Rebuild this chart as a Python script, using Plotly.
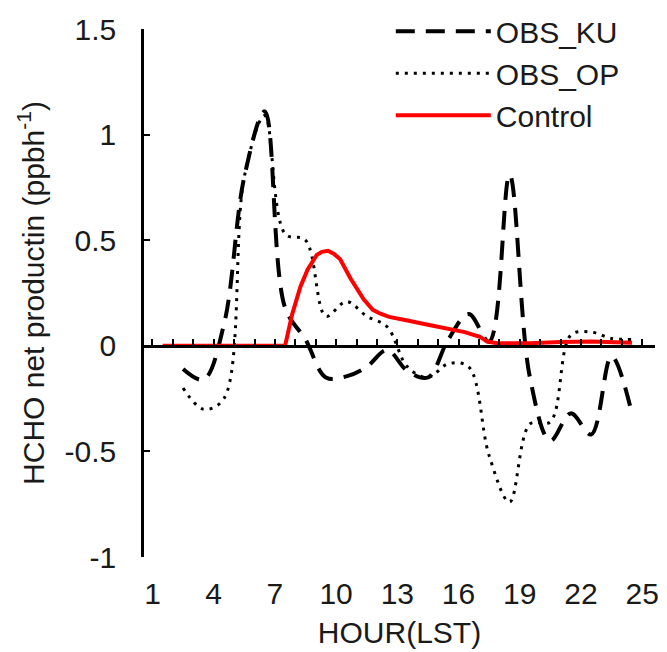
import plotly.graph_objects as go

# Hourly observation-derived net HCHO production (values plotted at hour centres)
obs_hours = [2.5, 3.5, 4.5, 5.5, 6.5, 7.5, 8.5, 9.5, 10.5, 11.5, 12.5, 13.5,
             14.5, 15.5, 16.5, 17.5, 18.5, 19.5, 20.5, 21.5, 22.5, 23.5, 24.5]
obs_ku = [-0.11, -0.16, 0.10, 0.80, 1.11, 0.18, 0.03, -0.15, -0.145, -0.10,
          -0.02, -0.12, -0.15, 0.03, 0.15, 0.02, 0.81, -0.15, -0.45, -0.32,
          -0.42, -0.05, -0.32]
obs_op = [-0.20, -0.30, -0.25, 0.80, 1.09, 0.53, 0.50, 0.14, 0.21, 0.14,
          0.09, -0.10, -0.15, -0.085, -0.10, -0.52, -0.74, -0.37, -0.36,
          0.05, 0.065, 0.035, 0.03]

# Model (Control) run, finer time resolution
ctrl_hours = [1.5, 7.5, 7.85, 8.25, 8.6, 9.05, 9.3, 9.6, 9.9, 10.2, 10.7, 11.0,
              11.35, 11.8, 12.17, 12.6, 13.0, 13.5, 14.5, 15.5, 16.3, 17.05,
              17.4, 17.9, 19.5, 21.0, 22.5, 24.5]
ctrl = [0.0, 0.0, 0.15, 0.28, 0.36, 0.43, 0.445, 0.45, 0.435, 0.41, 0.32, 0.27,
        0.22, 0.17, 0.152, 0.137, 0.128, 0.12, 0.10, 0.083, 0.065, 0.043,
        0.02, 0.012, 0.012, 0.018, 0.02, 0.015]

x_tickvals = [1, 4, 7, 10, 13, 16, 19, 22, 25]
x_ticktext = ["1", "4", "7", "10", "13", "16", "19", "22", "25"]
y_tickvals = [-1, -0.5, 0, 0.5, 1, 1.5]
y_ticktext = ["-1", "-0.5", "0", "0.5", "1", "1.5"]

X_RANGE = [0.584, 25.63]
Y_RANGE = [-1, 1.5]
FONT = "Liberation Sans, Arial, sans-serif"
TXT = "#1a1a1a"

fig = go.Figure()
fig.add_trace(go.Scatter(
    x=obs_hours, y=obs_ku, name="OBS_KU", mode="lines",
    line=dict(color="black", width=4, dash="19px,11px", shape="spline")))
fig.add_trace(go.Scatter(
    x=obs_hours, y=obs_op, name="OBS_OP", mode="lines",
    line=dict(color="black", width=3, dash="3px,6px", shape="spline")))
fig.add_trace(go.Scatter(
    x=ctrl_hours, y=ctrl, name="Control", mode="lines",
    line=dict(color="#ff0000", width=4)))

# zero-crossing axis with hourly tick marks
fig.add_trace(go.Scatter(x=[1, 25], y=[0, 0], xaxis="x2", mode="lines",
                         line=dict(width=0), hoverinfo="skip",
                         showlegend=False))

fig.update_layout(
    width=667, height=652,
    margin=dict(l=144, r=12, t=29, b=95, autoexpand=False),
    paper_bgcolor="white", plot_bgcolor="white",
    font=dict(family=FONT, size=30, color=TXT),
    showlegend=True,
    legend=dict(x=0.483, y=1.045, xanchor="left", yanchor="top",
                bgcolor="rgba(0,0,0,0)", itemwidth=95, traceorder="normal",
                font=dict(family=FONT, size=30, color=TXT)),
    xaxis=dict(range=X_RANGE, tickvals=x_tickvals, ticktext=x_ticktext,
               showline=False, ticks="", showgrid=False, zeroline=False,
               ticklabelstandoff=16,
               title=dict(text="HOUR(LST)", standoff=12,
                          font=dict(family=FONT, size=30, color=TXT))),
    xaxis2=dict(range=X_RANGE, overlaying="x", anchor="free", position=0.4,
                side="bottom", showline=True, linecolor="black", linewidth=2.5,
                ticks="inside", tickmode="linear", tick0=1, dtick=1,
                ticklen=6, tickwidth=2, tickcolor="black",
                showticklabels=False, showgrid=False, zeroline=False),
    yaxis=dict(range=Y_RANGE, tickvals=y_tickvals, ticktext=y_ticktext,
               showline=True, linecolor="black", linewidth=2.5,
               ticks="inside", ticklen=6, tickwidth=2, tickcolor="black",
               showgrid=False, zeroline=False, ticklabelstandoff=19,
               title=dict(text="HCHO net productin (ppbh<sup>-1</sup>)",
                          standoff=12,
                          font=dict(family=FONT, size=30, color=TXT))),
)

fig.write_html("out.html")
